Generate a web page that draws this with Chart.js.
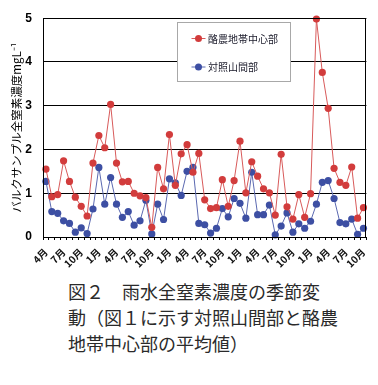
<!DOCTYPE html>
<html>
<head>
<meta charset="utf-8">
<script src="https://cdn.jsdelivr.net/npm/chart.js@4/dist/chart.umd.min.js"></script>
<style>
  html, body { margin: 0; padding: 0; background: #fff; }
  #wrap { position: relative; width: 378px; height: 385px; overflow: hidden; }
  #c { position: absolute; left: 0; top: 0; }
  #caption {
    position: absolute; left: 68px; top: 278px; width: 300px;
    font-family: "Noto Sans CJK JP", sans-serif; font-size: 18px; line-height: 26px;
    color: #2a2a2a; white-space: pre;
  }
</style>
</head>
<body>
<div id="wrap">
  <canvas id="c" width="378" height="270"></canvas>
  <div id="caption">図２　雨水全窒素濃度の季節変
動（図１に示す対照山間部と酪農
地帯中心部の平均値）</div>
</div>
<script>
// Monthly categories (April of year 1 through October of year 5)
const categories = [
  '4月','5月','6月','7月','8月','9月','10月','11月','12月','1月','2月','3月',
  '4月','5月','6月','7月','8月','9月','10月','11月','12月','1月','2月','3月',
  '4月','5月','6月','7月','8月','9月','10月','11月','12月','1月','2月','3月',
  '4月','5月','6月','7月','8月','9月','10月','11月','12月','1月','2月','3月',
  '4月','5月','6月','7月','8月','9月','10月'
];
// Only every third month is labelled on the axis
const tickEvery = 3;

const seriesNames = ['酪農地帯中心部', '対照山間部'];

const dairyValues = [
  1.55, 0.92, 0.97, 1.74, 1.27, 0.91, 0.70, 0.48, 1.69, 2.32,
  2.04, 3.03, 1.69, 1.26, 1.27, 1.00, 0.94, 0.90, 0.22, 1.59,
  1.10, 2.34, 1.18, 1.90, 2.11, 1.48, 1.91, 0.85, 0.65, 0.67,
  1.31, 0.70, 1.29, 2.19, 1.01, 1.72, 1.39, 1.10, 1.01, 0.50,
  1.89, 0.69, 0.41, 0.97, 0.45, 0.99, 4.98, 3.76, 2.94, 1.57,
  1.25, 1.18, 1.60, 0.43, 0.67
];
const mountainValues = [
  1.27, 0.58, 0.54, 0.37, 0.31, 0.11, 0.21, 0.08, 0.64, 1.59,
  0.75, 1.36, 0.75, 0.45, 0.58, 0.27, 0.37, 0.84, 0.07, 0.75,
  0.40, 1.33, 1.24, 0.95, 1.50, 1.59, 0.31, 0.28, 0.09, 0.20,
  0.65, 0.46, 0.88, 0.77, 0.43, 1.48, 0.51, 0.51, 0.73, 0.05,
  0.25, 0.55, 0.11, 0.30, 0.20, 0.36, 0.75, 1.25, 1.29, 0.88,
  0.33, 0.30, 0.41, 0.06, 0.20
];

const yTitle = 'バルクサンプル全窒素濃度mgL⁻¹';
const yMin = 0, yMax = 5, yStep = 1;

const RED = '#d23c3c', RED_LINE = '#d85a5a';
const BLUE = '#3d4fa3', BLUE_LINE = '#5a68b0';

const frame = {
  id: 'frame',
  afterDatasetsDraw(chart) {
    const a = chart.chartArea, ctx = chart.ctx;
    ctx.save();
    ctx.strokeStyle = '#000';
    ctx.lineWidth = 1;
    ctx.strokeRect(Math.round(a.left) + 0.5, Math.round(a.top) + 0.5,
                   Math.round(a.right - a.left) - 1, Math.round(a.bottom - a.top));
    ctx.restore();
  }
};

const boxLegend = {
  id: 'boxLegend',
  afterDraw(chart) {
    const ctx = chart.ctx;
    const x0 = 177, y0 = 22, w = 113, h = 59;
    ctx.save();
    ctx.fillStyle = '#fff';
    ctx.fillRect(x0, y0, w, h);
    ctx.strokeStyle = '#a8a8a8';
    ctx.lineWidth = 1;
    ctx.strokeRect(x0 + 0.5, y0 + 0.5, w, h);
    const rows = [38.5, 67];
    chart.data.datasets.forEach((ds, i) => {
      const y = rows[i];
      ctx.strokeStyle = ds.borderColor;
      ctx.lineWidth = 1;
      ctx.beginPath();
      ctx.moveTo(191.5, y); ctx.lineTo(205.5, y);
      ctx.stroke();
      ctx.fillStyle = ds.pointBackgroundColor;
      ctx.beginPath();
      ctx.arc(198.5, y, 3.5, 0, Math.PI * 2);
      ctx.fill();
      ctx.fillStyle = '#1a1a2a';
      ctx.font = '10px "Noto Sans CJK JP", sans-serif';
      ctx.textBaseline = 'middle';
      ctx.textAlign = 'left';
      ctx.fillText(ds.label, 208, y + 0.5);
    });
    ctx.restore();
  }
};

new Chart(document.getElementById('c'), {
  type: 'line',
  data: {
    labels: categories,
    datasets: [
      {
        label: seriesNames[0], data: dairyValues,
        borderColor: RED_LINE, backgroundColor: RED,
        pointBackgroundColor: RED, pointBorderColor: RED,
        borderWidth: 1, pointRadius: 3.6, pointBorderWidth: 0, pointHoverRadius: 3.6,
        tension: 0, clip: false
      },
      {
        label: seriesNames[1], data: mountainValues,
        borderColor: BLUE_LINE, backgroundColor: BLUE,
        pointBackgroundColor: BLUE, pointBorderColor: BLUE,
        borderWidth: 1, pointRadius: 3.6, pointBorderWidth: 0, pointHoverRadius: 3.6,
        tension: 0, clip: false
      }
    ]
  },
  options: {
    responsive: false,
    animation: false,
    devicePixelRatio: 1,
    layout: { padding: { left: 0, right: 5, top: 15, bottom: 0 } },
    plugins: { legend: { display: false }, tooltip: { enabled: false } },
    scales: {
      x: {
        type: 'category',
        offset: true,
        grid: { display: true, offset: true, drawOnChartArea: false, drawTicks: true,
                tickLength: 3, color: '#000', lineWidth: 1 },
        border: { display: true, color: '#000', width: 1 },
        ticks: {
          autoSkip: false, maxRotation: 45, minRotation: 45, padding: 6,
          color: '#111',
          font: { family: '"Noto Sans CJK JP", sans-serif', size: 10, weight: 'bold' },
          callback: (v, i) => (i % tickEvery === 0 ? categories[i] : '')
        },
        afterFit: (s) => { s.height = 33; }
      },
      y: {
        min: yMin, max: yMax,
        grid: { color: '#000', lineWidth: 1, drawTicks: false },
        border: { display: true, color: '#000', width: 1 },
        ticks: {
          stepSize: yStep, padding: 11, color: '#000',
          font: { family: '"Liberation Sans Narrow", "Liberation Sans", sans-serif', size: 12, weight: 'bold' }
        },
        title: {
          display: true, text: yTitle, color: '#000',
          padding: { top: 10, bottom: 0 },
          font: { family: '"Noto Sans CJK JP", sans-serif', size: 11.5, weight: 'normal' }
        },
        afterFit: (s) => { s.width = 43; }
      }
    }
  },
  plugins: [frame, boxLegend]
});
</script>
</body>
</html>
